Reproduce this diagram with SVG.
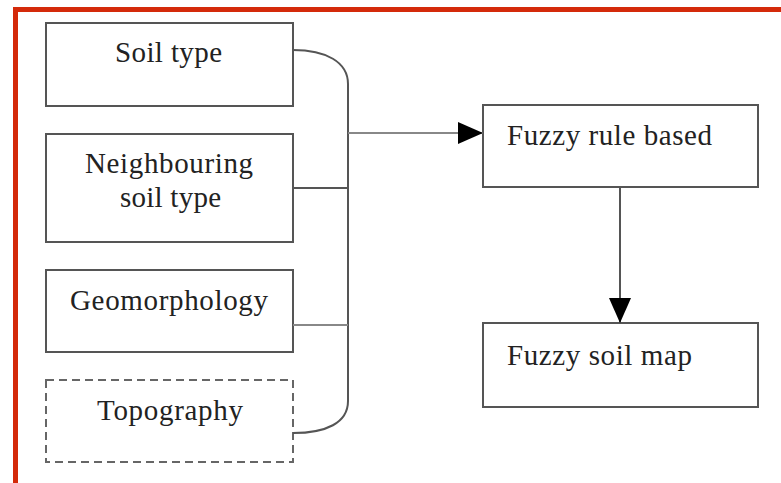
<svg xmlns="http://www.w3.org/2000/svg" width="781" height="483" viewBox="0 0 781 483">
<style>
.box{fill:#fff;stroke:#555;stroke-width:2}
.dash{fill:#fff;stroke:#666;stroke-width:2;stroke-dasharray:8 5}
.t{font-family:"Liberation Serif","Times New Roman",serif;font-size:29px;fill:#222}
.c{fill:none;stroke:#555;stroke-width:2}
.cl{fill:none;stroke:#888;stroke-width:2}
</style>
<defs>
<marker id="ah" viewBox="0 0 25 22" refX="25" refY="11" markerWidth="25" markerHeight="22" markerUnits="userSpaceOnUse" orient="auto">
<path d="M0,0 L25,11 L0,22 Z" fill="#000"/>
</marker>
</defs>
<rect width="781" height="483" fill="#fff"/>
<path d="M15.5,483 V9.5 H781" fill="none" stroke="#d42a0a" stroke-width="5"/>
<g id="soil-type"><rect class="box" x="46" y="23" width="247" height="83"/><text class="t" x="115" y="62" textLength="107">Soil type</text></g>
<g id="neighbouring"><rect class="box" x="46" y="134" width="247" height="108"/><text class="t" x="85" y="173" textLength="168">Neighbouring</text><text class="t" x="120" y="207" textLength="101">soil type</text></g>
<g id="geomorphology"><rect class="box" x="46" y="270" width="247" height="82"/><text class="t" x="70" y="310" textLength="198">Geomorphology</text></g>
<g id="topography"><rect class="dash" x="46" y="380" width="247" height="82"/><text class="t" x="97" y="420" textLength="146">Topography</text></g>
<g id="fuzzy-rule"><rect class="box" x="483" y="105" width="275" height="82"/><text class="t" x="507" y="145" textLength="205">Fuzzy rule based</text></g>
<g id="fuzzy-map"><rect class="box" x="483" y="323" width="275" height="84"/><text class="t" x="507" y="365" textLength="185">Fuzzy soil map</text></g>
<g id="connectors">
<path class="c" d="M293,50 C326,50 348,62 348,84 V401 C348,423 326,433 293,433"/>
<path class="c" d="M293,188 H348"/>
<path class="cl" d="M293,325 H348"/>
<path class="cl" d="M348,133 H483" marker-end="url(#ah)"/>
<path class="c" d="M620,187 V323" marker-end="url(#ah)"/>
</g>
</svg>
